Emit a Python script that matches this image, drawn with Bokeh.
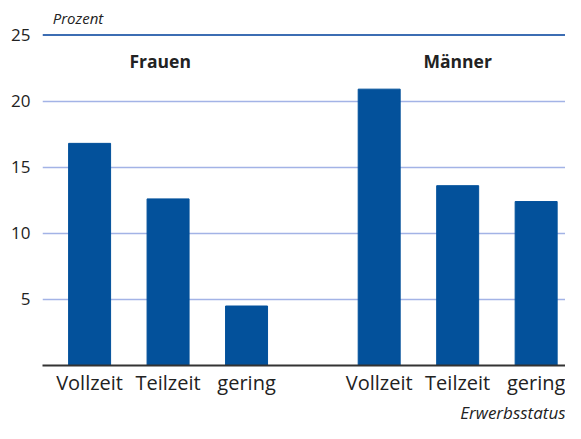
from bokeh.plotting import figure
from bokeh.models import ColumnDataSource, Span, Title, FixedTicker
from bokeh.core.properties import value
from bokeh.embed import file_html
from bokeh.resources import INLINE

groups = ["Frauen", "Männer"]
status = ["Vollzeit", "Teilzeit", "gering"]
frauen = [16.8, 12.6, 4.5]
maenner = [20.9, 13.6, 12.4]
y_ticks = [5, 10, 15, 20, 25]

GROUP_GAP = 3.69
xs, tops, labels = [], [], []
for gi, vals in enumerate([frauen, maenner]):
    for si, v in enumerate(vals):
        xs.append(gi * GROUP_GAP + si)
        tops.append(v)
        labels.append(status[si])

src = ColumnDataSource(dict(x=xs, top=tops))

FONT = "Open Sans"
p = figure(width=565, height=423, output_backend="svg", toolbar_location=None,
           x_range=(-0.6, 6.064), y_range=(0, 27),
           min_border_left=42, min_border_right=0, min_border_top=8, min_border_bottom=30)
p.outline_line_color = None
p.background_fill_color = "white"
p.border_fill_color = "white"

p.vbar(x="x", top="top", width=0.535, source=src, color="#03519b")

# axes
p.yaxis.ticker = FixedTicker(ticks=y_ticks)
p.yaxis.axis_line_color = None
p.yaxis.major_tick_line_color = None
p.yaxis.minor_tick_line_color = None
p.yaxis.major_label_text_font = FONT
p.yaxis.major_label_text_font_size = "17px"
p.yaxis.major_label_text_color = "#222222"
p.yaxis.major_label_standoff = 6

p.xaxis.ticker = FixedTicker(ticks=xs)
p.xaxis.major_label_overrides = {x: l for x, l in zip(xs, labels)}
p.xaxis.axis_line_color = "#333333"
p.xaxis.axis_line_width = 2
p.xaxis.major_tick_line_color = None
p.xaxis.minor_tick_line_color = None
p.xaxis.major_tick_out = 0
p.xaxis.major_tick_in = 0
p.xaxis.major_label_text_font = FONT
p.xaxis.major_label_text_font_size = "20px"
p.xaxis.major_label_text_color = "#222222"
p.xaxis.major_label_standoff = 3

p.xgrid.grid_line_color = None
p.ygrid.ticker = FixedTicker(ticks=y_ticks[:-1])
p.ygrid.grid_line_color = "#a3b3e6"
p.ygrid.grid_line_width = 1.5
p.add_layout(Span(location=25, dimension="width", line_color="#3c6db3", line_width=2))

# group labels
for gi, g in enumerate(groups):
    p.text(x=[gi * GROUP_GAP + 1 - 0.1 + 0.1 * gi], y=[23.0], text=[g], text_align="center",
           text_baseline="middle", text_font=value(FONT), text_font_style="bold",
           text_font_size="17.5px", text_color="#222222")

# unit label
p.text(x=[-0.47], y=[26.3], text=["Prozent"], text_align="left", text_baseline="middle",
       text_font=value(FONT), text_font_style="italic", text_font_size="15px",
       text_color="#222222")

p.add_layout(Title(text="Erwerbsstatus", align="right", text_font=FONT,
                   text_font_style="italic", text_font_size="17px", text_line_height=0.8,
                   text_color="#222222", standoff=0, offset=0), "below")

open("out.html", "w").write(file_html(p, INLINE))
